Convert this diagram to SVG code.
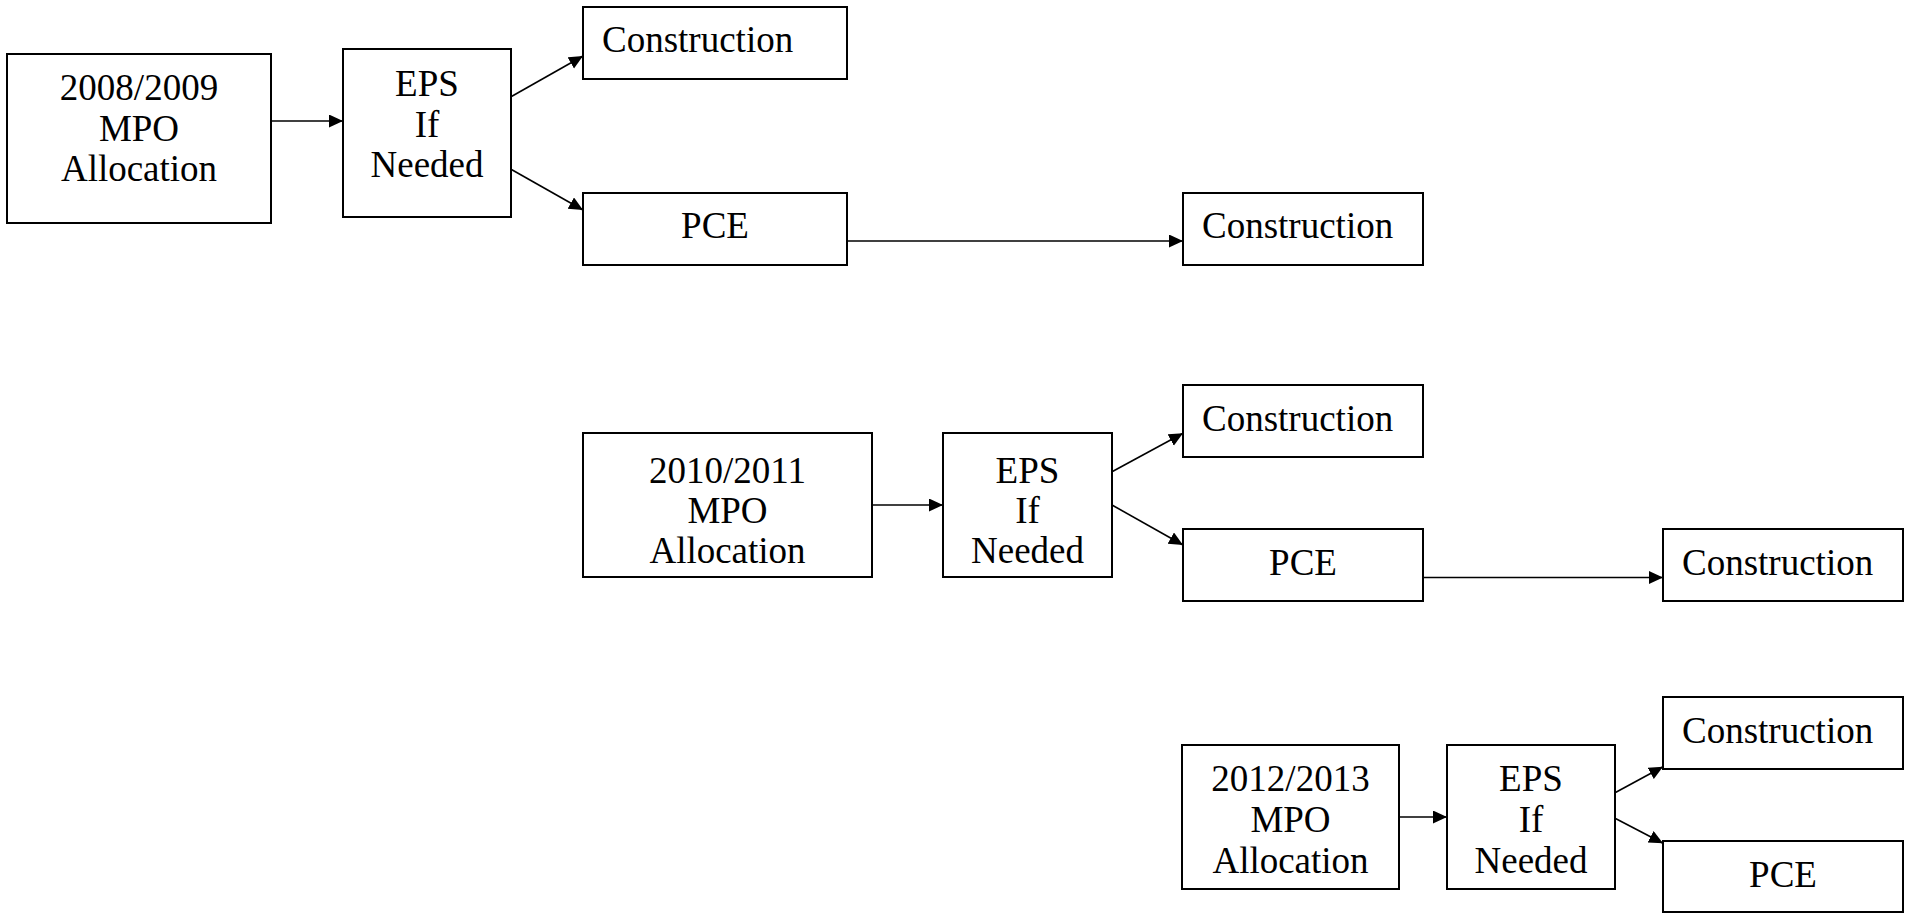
<svg xmlns="http://www.w3.org/2000/svg" width="1914" height="913" viewBox="0 0 1914 913">
<style>
  .box { fill: #ffffff; stroke: #000000; stroke-width: 2; }
  .t { font-family: "Liberation Serif", "Times New Roman", serif; font-size: 37px; fill: #000000; }
  .c { text-anchor: middle; }
  .conn { fill: none; stroke: #000000; stroke-width: 1.6; marker-end: url(#arrow); }
</style>
<defs>
  <marker id="arrow" markerUnits="userSpaceOnUse" markerWidth="15" markerHeight="14" refX="14" refY="6.5" orient="auto">
    <path d="M0,0 L14,6.5 L0,13 z" fill="#000000"/>
  </marker>
</defs>
<rect x="0" y="0" width="1914" height="913" fill="#ffffff"/>

<g id="connectors">
  <path class="conn" d="M271,121 H343"/>
  <path class="conn" d="M511,96.7 L583,56"/>
  <path class="conn" d="M511,169.3 L583,210"/>
  <path class="conn" d="M847,241 H1183"/>
  <path class="conn" d="M872,505 H943"/>
  <path class="conn" d="M1112,471.7 L1183,433.3"/>
  <path class="conn" d="M1112,505 L1183,545"/>
  <path class="conn" d="M1423,577.5 H1663"/>
  <path class="conn" d="M1399,817 H1447"/>
  <path class="conn" d="M1615,792.7 L1663,766.7"/>
  <path class="conn" d="M1615,818.3 L1663,843.3"/>
</g>

<g id="mpo-2008">
  <rect class="box" x="7" y="54" width="264" height="169"/>
  <text class="t c" x="139" y="100">2008/2009</text>
  <text class="t c" x="139" y="141">MPO</text>
  <text class="t c" x="139" y="181">Allocation</text>
</g>
<g id="eps-2008">
  <rect class="box" x="343" y="49" width="168" height="168"/>
  <text class="t c" x="427" y="96">EPS</text>
  <text class="t c" x="427" y="137">If</text>
  <text class="t c" x="427" y="177">Needed</text>
</g>
<g id="construction-2008a">
  <rect class="box" x="583" y="7" width="264" height="72"/>
  <text class="t" x="602" y="52">Construction</text>
</g>
<g id="pce-2008">
  <rect class="box" x="583" y="193" width="264" height="72"/>
  <text class="t c" x="715" y="238">PCE</text>
</g>
<g id="construction-2008b">
  <rect class="box" x="1183" y="193" width="240" height="72"/>
  <text class="t" x="1202" y="238">Construction</text>
</g>

<g id="mpo-2010">
  <rect class="box" x="583" y="433" width="289" height="144"/>
  <text class="t c" x="727.5" y="483">2010/2011</text>
  <text class="t c" x="727.5" y="523">MPO</text>
  <text class="t c" x="727.5" y="563">Allocation</text>
</g>
<g id="eps-2010">
  <rect class="box" x="943" y="433" width="169" height="144"/>
  <text class="t c" x="1027.5" y="483">EPS</text>
  <text class="t c" x="1027.5" y="523">If</text>
  <text class="t c" x="1027.5" y="563">Needed</text>
</g>
<g id="construction-2010a">
  <rect class="box" x="1183" y="385" width="240" height="72"/>
  <text class="t" x="1202" y="431">Construction</text>
</g>
<g id="pce-2010">
  <rect class="box" x="1183" y="529" width="240" height="72"/>
  <text class="t c" x="1303" y="575">PCE</text>
</g>
<g id="construction-2010b">
  <rect class="box" x="1663" y="529" width="240" height="72"/>
  <text class="t" x="1682" y="575">Construction</text>
</g>

<g id="mpo-2012">
  <rect class="box" x="1182" y="745" width="217" height="144"/>
  <text class="t c" x="1290.5" y="791">2012/2013</text>
  <text class="t c" x="1290.5" y="832">MPO</text>
  <text class="t c" x="1290.5" y="873">Allocation</text>
</g>
<g id="eps-2012">
  <rect class="box" x="1447" y="745" width="168" height="144"/>
  <text class="t c" x="1531" y="791">EPS</text>
  <text class="t c" x="1531" y="832">If</text>
  <text class="t c" x="1531" y="873">Needed</text>
</g>
<g id="construction-2012">
  <rect class="box" x="1663" y="697" width="240" height="72"/>
  <text class="t" x="1682" y="743">Construction</text>
</g>
<g id="pce-2012">
  <rect class="box" x="1663" y="841" width="240" height="71"/>
  <text class="t c" x="1783" y="887">PCE</text>
</g>
</svg>
